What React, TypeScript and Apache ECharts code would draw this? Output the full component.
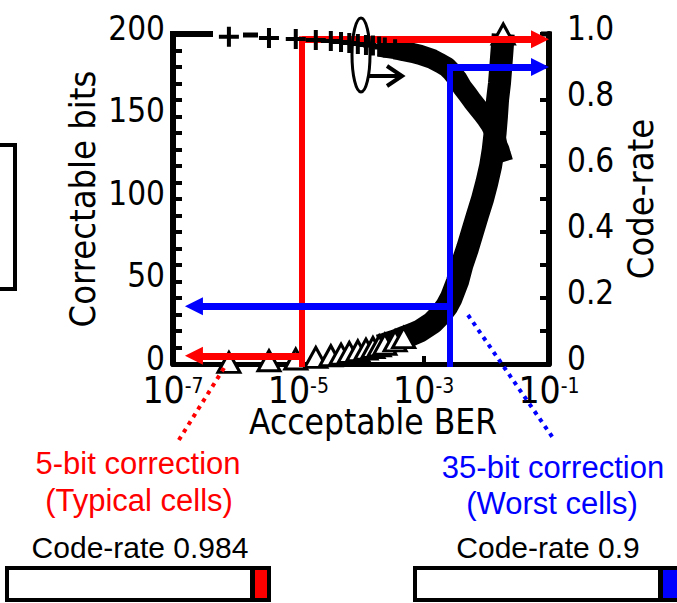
import React, { useEffect, useRef } from 'react';
import * as echarts from 'echarts';

// ---- data ----
const correctableBits = [1, 2, 3, 4, 5, 6, 7, 8, 9, 10, 11, 12, 14, 16, 18, 20, 25, 30, 35, 40, 50, 60, 70, 80, 90, 100, 110, 120, 130, 140, 150, 160, 170, 180, 190, 200];
const acceptableBER = [7.8e-7, 3.4e-6, 9.1e-6, 1.9e-5, 3.3e-5, 4.8e-5, 6.5e-5, 8.9e-5, 1.2e-4, 1.55e-4, 1.95e-4, 2.4e-4, 3.5e-4, 4.8e-4, 6.6e-4, 8.7e-4, 1.38e-3, 1.86e-3, 2.34e-3, 2.75e-3, 3.47e-3, 4.07e-3, 5.0e-3, 6.0e-3, 7.2e-3, 8.7e-3, 1.02e-2, 1.17e-2, 1.29e-2, 1.38e-2, 1.45e-2, 1.51e-2, 1.62e-2, 1.70e-2, 1.78e-2, 1.86e-2];
const codeRate = [0.992, 0.988, 0.985, 0.982, 0.979, 0.976, 0.973, 0.970, 0.967, 0.965, 0.962, 0.959, 0.954, 0.948, 0.943, 0.937, 0.924, 0.911, 0.900, 0.887, 0.863, 0.840, 0.818, 0.797, 0.778, 0.759, 0.741, 0.724, 0.708, 0.692, 0.678, 0.663, 0.650, 0.636, 0.624, 0.612];

const xTickExponents = [-7, -5, -3, -1];
const bitsTicks = [0, 10, 20, 30, 40, 50, 60, 70, 80, 90, 100, 110, 120, 130, 140, 150, 160, 170, 180, 190, 200];
const bitsLabels = [0, 50, 100, 150, 200];
const rateTicks = [0, 0.1, 0.2, 0.3, 0.4, 0.5, 0.6, 0.7, 0.8, 0.9, 1];
const rateLabels = [0, 0.2, 0.4, 0.6, 0.8, 1];

const typicalCells = { bits: 5, ber: 1.15e-5, rate: 0.984 };
const worstCells = { bits: 35, ber: 2.58e-3, rate: 0.9 };
const berMin = 1e-7;
const berMax = 1e-1;
const leftArrowTipBER = 1.55e-7;

const AXIS_FONT = '"DejaVu Sans Condensed", "DejaVu Sans", sans-serif';
const NOTE_FONT = '"Liberation Sans", Arial, sans-serif';

const RED = '#ff0000';
const BLUE = '#0000ff';

export default function App() {
  const ref = useRef<HTMLDivElement>(null);

  useEffect(() => {
    if (!ref.current) return;
    const chart = echarts.init(ref.current, undefined, { renderer: 'svg' });

    const pts = correctableBits.map((t, i) => ({ x: Math.log10(acceptableBER[i]), t, r: codeRate[i] }));
    const bitsBand = pts.filter((p) => p.t >= 11).map((p) => [p.x, p.t]);
    const bitsMarks = pts.filter((p) => p.t <= 16 || p.t === 200).map((p) => [p.x, p.t]);
    const rateBand = pts.filter((p) => p.t >= 11).map((p) => [p.x, p.r]);
    const rateMarks = pts.filter((p) => p.t <= 14).map((p) => [p.x, p.r]);

    const headOffset = 0.144; // half arrow-head length in decades
    const xRightEnd = Math.log10(berMax) - headOffset;
    const xLeftEnd = Math.log10(leftArrowTipBER) + headOffset;
    const xr = Math.log10(typicalCells.ber);
    const xb = Math.log10(worstCells.ber);

    const plusPath = 'path://M8,0h4v8h8v4h-8v8h-4v-8h-8v-4h8z';
    const tickRich = { v: { fontSize: 33, lineHeight: 24, fontFamily: AXIS_FONT, color: '#000', padding: [0, 0, 12, 0] } };

    const option: any = {
      animation: false,
      grid: { left: 173, right: 128, top: 34, bottom: 239, containLabel: false },
      xAxis: {
        type: 'value',
        min: Math.log10(berMin),
        max: Math.log10(berMax),
        axisLine: { show: true, lineStyle: { color: '#000', width: 5 } },
        axisTick: { show: true, inside: true, length: 8, customValues: xTickExponents, lineStyle: { color: '#000', width: 4 } },
        axisLabel: {
          customValues: xTickExponents,
          margin: 11,
          color: '#000',
          formatter: (v: number) => `{a|10}{b|${v}}`,
          rich: {
            a: { fontSize: 37, lineHeight: 30, fontFamily: AXIS_FONT, color: '#000' },
            b: { fontSize: 21, lineHeight: 18, fontFamily: AXIS_FONT, color: '#000', padding: [0, 0, 9, 0] },
          },
        },
        splitLine: { show: false },
        name: 'Acceptable BER',
        nameLocation: 'middle',
        nameMoveOverlap: false,
        nameGap: 42,
        nameTextStyle: { fontSize: 35, lineHeight: 32, fontFamily: AXIS_FONT, color: '#000', padding: [0, 0, 0, 24] },
      },
      yAxis: [
        {
          type: 'value',
          min: 0,
          max: 200,
          position: 'left',
          axisLine: { show: true, lineStyle: { color: '#000', width: 6 } },
          axisTick: { show: true, inside: true, length: 9, customValues: bitsTicks, lineStyle: { color: '#000', width: 4 } },
          axisLabel: { customValues: bitsLabels, margin: 8, formatter: (v: number) => `{v|${v}}`, rich: tickRich },
          splitLine: { show: false },
          name: 'Correctable bits',
          nameLocation: 'middle',
          nameMoveOverlap: false,
          nameRotate: 90,
          nameGap: 73,
          nameTextStyle: { fontSize: 36, fontFamily: AXIS_FONT, color: '#000' },
        },
        {
          type: 'value',
          min: 0,
          max: 1,
          position: 'right',
          axisLine: { show: true, lineStyle: { color: '#000', width: 6 } },
          axisTick: { show: true, inside: true, length: 9, customValues: rateTicks, lineStyle: { color: '#000', width: 4 } },
          axisLabel: {
            customValues: rateLabels,
            margin: 18,
            formatter: (v: number) => `{v|${v === 0 ? '0' : v.toFixed(1)}}`,
            rich: tickRich,
          },
          splitLine: { show: false },
          name: 'Code-rate',
          nameLocation: 'middle',
          nameMoveOverlap: false,
          nameRotate: 90,
          nameGap: 73,
          nameTextStyle: { fontSize: 36, fontFamily: AXIS_FONT, color: '#000' },
        },
      ],
      series: [
        {
          type: 'line',
          yAxisIndex: 0,
          data: bitsBand,
          showSymbol: false,
          silent: true,
          z: 2,
          lineStyle: { color: '#000', width: 23, join: 'round', cap: 'butt' },
        },
        {
          type: 'scatter',
          yAxisIndex: 0,
          data: bitsMarks,
          symbol: 'triangle',
          symbolSize: [22, 20],
          silent: true,
          z: 3,
          itemStyle: { color: '#fff', borderColor: '#000', borderWidth: 3, opacity: 1 },
        },
        {
          type: 'line',
          yAxisIndex: 1,
          data: rateBand,
          showSymbol: false,
          silent: true,
          z: 4,
          lineStyle: { color: '#000', width: 20, join: 'round', cap: 'butt' },
        },
        {
          type: 'scatter',
          yAxisIndex: 1,
          data: rateMarks,
          symbol: plusPath,
          symbolSize: 20,
          silent: true,
          z: 5,
          itemStyle: { color: '#000', opacity: 1 },
        },
        {
          type: 'line',
          yAxisIndex: 1,
          data: [],
          z: 10,
          markLine: {
            silent: true,
            animation: false,
            symbol: ['none', 'triangle'],
            symbolSize: 18,
            label: { show: false },
            emphasis: { disabled: true },
            data: [
              [
                { coord: [xr, 0], symbol: 'none', lineStyle: { color: RED, width: 6, type: 'solid', cap: 'square' } },
                { coord: [xr, typicalCells.rate], symbol: 'none' },
              ],
              [
                { coord: [xr, typicalCells.rate], lineStyle: { color: RED, width: 7, type: 'solid' }, itemStyle: { color: RED } },
                { coord: [xRightEnd, typicalCells.rate], itemStyle: { color: RED } },
              ],
              [
                { coord: [xb, 0], symbol: 'none', lineStyle: { color: BLUE, width: 6, type: 'solid', cap: 'square' } },
                { coord: [xb, worstCells.rate], symbol: 'none' },
              ],
              [
                { coord: [xb, worstCells.rate], lineStyle: { color: BLUE, width: 7, type: 'solid' }, itemStyle: { color: BLUE } },
                { coord: [xRightEnd, worstCells.rate], itemStyle: { color: BLUE } },
              ],
            ],
          },
        },
        {
          type: 'line',
          yAxisIndex: 0,
          data: [],
          z: 10,
          markLine: {
            silent: true,
            animation: false,
            symbol: ['none', 'triangle'],
            symbolSize: 18,
            label: { show: false },
            emphasis: { disabled: true },
            data: [
              [
                { coord: [xr, typicalCells.bits], lineStyle: { color: RED, width: 7, type: 'solid' }, itemStyle: { color: RED } },
                { coord: [xLeftEnd, typicalCells.bits], itemStyle: { color: RED } },
              ],
              [
                { coord: [xb, worstCells.bits], lineStyle: { color: BLUE, width: 7, type: 'solid' }, itemStyle: { color: BLUE } },
                { coord: [xLeftEnd, worstCells.bits], itemStyle: { color: BLUE } },
              ],
            ],
          },
        },
      ],
      graphic: [
        // partial box at the left edge
        { type: 'rect', shape: { x: -30, y: 145, width: 45, height: 144 }, style: { fill: 'none', stroke: '#000', lineWidth: 4 }, silent: true },
        // small top caps of the frame
        { type: 'line', shape: { x1: 170, y1: 34, x2: 213, y2: 34 }, style: { stroke: '#000', lineWidth: 6 }, silent: true },
        { type: 'line', shape: { x1: 243, y1: 35, x2: 258, y2: 35 }, style: { stroke: '#000', lineWidth: 5 }, silent: true },
        { type: 'line', shape: { x1: 541, y1: 34, x2: 552, y2: 34 }, style: { stroke: '#000', lineWidth: 5 }, silent: true },
        // axis indicator: ellipse with arrow to the right
        { type: 'ellipse', shape: { cx: 361, cy: 55, rx: 9, ry: 37 }, style: { fill: 'none', stroke: '#000', lineWidth: 3 }, silent: true, z: 20 },
        { type: 'polyline', shape: { points: [[368, 76], [402, 76]] }, style: { fill: 'none', stroke: '#000', lineWidth: 4 }, silent: true, z: 20 },
        { type: 'polyline', shape: { points: [[387, 66], [402, 76], [387, 86]] }, style: { fill: 'none', stroke: '#000', lineWidth: 4 }, silent: true, z: 20 },
        // dotted leader lines
        { type: 'line', shape: { x1: 224, y1: 368, x2: 177, y2: 443 }, style: { stroke: RED, lineWidth: 4, lineDash: [4, 5] }, silent: true, z: 20 },
        { type: 'line', shape: { x1: 468, y1: 315, x2: 553, y2: 438 }, style: { stroke: BLUE, lineWidth: 4, lineDash: [4, 5] }, silent: true, z: 20 },
        // notes
        { type: 'text', x: 138, y: 463, style: { text: '5-bit correction', fill: RED, font: `31px ${NOTE_FONT}`, align: 'center', verticalAlign: 'middle' }, silent: true },
        { type: 'text', x: 139, y: 500, style: { text: '(Typical cells)', fill: RED, font: `31px ${NOTE_FONT}`, align: 'center', verticalAlign: 'middle' }, silent: true },
        { type: 'text', x: 553, y: 467, style: { text: '35-bit correction', fill: BLUE, font: `31px ${NOTE_FONT}`, align: 'center', verticalAlign: 'middle' }, silent: true },
        { type: 'text', x: 552, y: 503, style: { text: '(Worst cells)', fill: BLUE, font: `31px ${NOTE_FONT}`, align: 'center', verticalAlign: 'middle' }, silent: true },
        { type: 'text', x: 140, y: 547, style: { text: 'Code-rate 0.984', fill: '#000', font: `30px ${NOTE_FONT}`, align: 'center', verticalAlign: 'middle' }, silent: true },
        { type: 'text', x: 548, y: 547, style: { text: 'Code-rate 0.9', fill: '#000', font: `30px ${NOTE_FONT}`, align: 'center', verticalAlign: 'middle' }, silent: true },
        // code-rate bars
        { type: 'rect', shape: { x: 7, y: 568, width: 262, height: 32 }, style: { fill: '#fff', stroke: '#000', lineWidth: 4 }, silent: true },
        { type: 'rect', shape: { x: 255, y: 570, width: 12, height: 28 }, style: { fill: RED }, silent: true, z: 2 },
        { type: 'line', shape: { x1: 252.5, y1: 568, x2: 252.5, y2: 600 }, style: { stroke: '#000', lineWidth: 5 }, silent: true, z: 2 },
        { type: 'rect', shape: { x: 415, y: 568, width: 300, height: 32 }, style: { fill: '#fff', stroke: '#000', lineWidth: 4 }, silent: true },
        { type: 'rect', shape: { x: 663, y: 570, width: 20, height: 28 }, style: { fill: BLUE }, silent: true, z: 2 },
        { type: 'line', shape: { x1: 660.5, y1: 568, x2: 660.5, y2: 600 }, style: { stroke: '#000', lineWidth: 5 }, silent: true, z: 2 },
      ],
    };

    chart.setOption(option);
    return () => chart.dispose();
  }, []);

  return <div ref={ref} style={{ position: 'fixed', left: 0, top: 0, width: 677, height: 603, background: '#fff' }} />;
}
